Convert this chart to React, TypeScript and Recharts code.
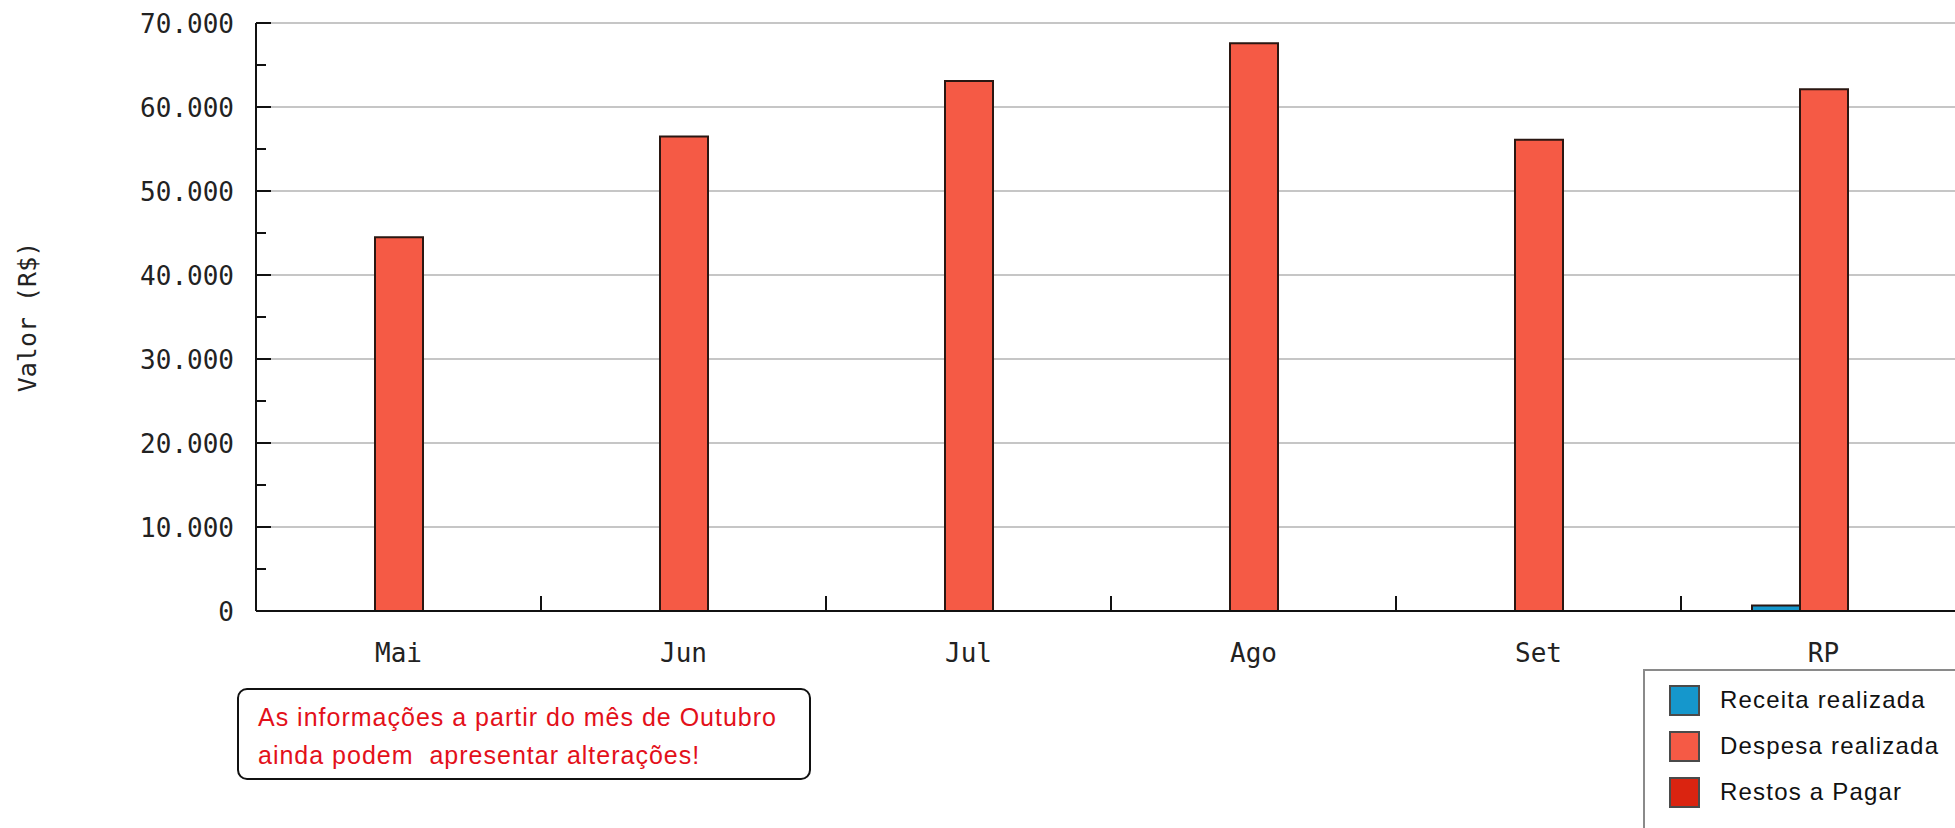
import { BarChart, Bar, XAxis, YAxis, CartesianGrid } from "recharts";

const categories = ["Mai", "Jun", "Jul", "Ago", "Set", "RP"];
const receitaRealizada = [0, 0, 0, 0, 0, 650];
const despesaRealizada = [44500, 56500, 63100, 67600, 56100, 62100];
const restosAPagar = [0, 0, 0, 0, 0, 0];

const yTicks = [0, 5000, 10000, 15000, 20000, 25000, 30000, 35000, 40000, 45000, 50000, 55000, 60000, 65000, 70000];
const yGridValues = [10000, 20000, 30000, 40000, 50000, 60000, 70000];

const noteLines = ["As informações a partir do mês de Outubro", "ainda podem  apresentar alterações!"];

const series = [
  { key: "receita", name: "Receita realizada", color: "#1597cc", values: receitaRealizada },
  { key: "despesa", name: "Despesa realizada", color: "#f55a45", values: despesaRealizada },
  { key: "restos", name: "Restos a Pagar", color: "#da2410", values: restosAPagar },
];

const data = categories.map((month, i) => {
  const row: Record<string, string | number> = { month };
  series.forEach((s) => (row[s.key] = s.values[i]));
  return row;
});

const MONO = "'DejaVu Sans Mono', monospace";
const SANS = "'Liberation Sans', Arial, sans-serif";

const CHART_W = 1980;
const PLOT_LEFT = 256;
const PLOT_RIGHT = 14;
const BAND = (CHART_W - PLOT_LEFT - PLOT_RIGHT) / categories.length;

const fmt = (v: number) => String(v).replace(/\B(?=(\d{3})+(?!\d))/g, ".");

const XTick = (props: any) => {
  const { x, y, payload, index } = props;
  const half = payload?.offset || BAND / 2;
  return (
    <g>
      <text x={x} y={y + 51} textAnchor="middle" fontFamily={MONO} fontSize={26} fill="#222">
        {payload.value}
      </text>
      {index < categories.length - 1 && (
        <line x1={x + half} x2={x + half} y1={y} y2={y - 15} stroke="#111" strokeWidth={2} />
      )}
    </g>
  );
};

const YTick = (props: any) => {
  const { x, y, payload } = props;
  const major = payload.value % 10000 === 0;
  return (
    <g>
      {payload.value !== 0 && (
        <line x1={x} x2={x + (major ? 15 : 10)} y1={y} y2={y} stroke="#111" strokeWidth={2} />
      )}
      {major && (
        <text x={x - 22} y={y} dy="0.38em" textAnchor="end" fontFamily={MONO} fontSize={26} fill="#222">
          {fmt(payload.value)}
        </text>
      )}
    </g>
  );
};

const YTitle = (props: any) => {
  const vb = props.viewBox || { y: 23, height: 588 };
  return (
    <text
      transform={`translate(27, ${vb.y + vb.height / 2}) rotate(-90)`}
      textAnchor="middle"
      dy="0.35em"
      fontFamily={MONO}
      fontSize={25}
      fill="#222"
    >
      Valor (R$)
    </text>
  );
};

export default function App() {
  return (
    <div style={{ position: "absolute", left: 0, top: 0, width: 1955, height: 828, overflow: "hidden", background: "#fff" }}>
      <BarChart
        width={CHART_W}
        height={828}
        data={data}
        margin={{ top: 23, right: PLOT_RIGHT, bottom: 157, left: 0 }}
        barGap={0}
        barSize={48}
      >
        <CartesianGrid vertical={false} horizontalValues={yGridValues} stroke="#c6c6c6" strokeWidth={2} />
        <XAxis
          dataKey="month"
          height={60}
          interval={0}
          tickSize={0}
          tickMargin={0}
          axisLine={{ stroke: "#111", strokeWidth: 2 }}
          tick={XTick}
        />
        <YAxis
          width={PLOT_LEFT}
          domain={[0, 70000]}
          ticks={yTicks}
          interval={0}
          tickSize={0}
          tickMargin={0}
          axisLine={{ stroke: "#111", strokeWidth: 2 }}
          tick={YTick}
          label={YTitle}
        />
        {series.map((s) => (
          <Bar
            key={s.key}
            dataKey={s.key}
            name={s.name}
            fill={s.color}
            stroke="#2a1712"
            strokeWidth={2}
            isAnimationActive={false}
          />
        ))}
      </BarChart>

      {/* aviso */}
      <div
        style={{
          position: "absolute",
          left: 237,
          top: 688,
          width: 570,
          height: 88,
          border: "2px solid #111",
          borderRadius: 10,
          fontFamily: SANS,
          fontSize: 25,
          color: "#e3101a",
        }}
      >
        {noteLines.map((line, i) => (
          <div
            key={i}
            style={{ position: "absolute", left: 19, top: 12 + i * 38, lineHeight: "30px", whiteSpace: "pre", letterSpacing: 1 }}
          >
            {line}
          </div>
        ))}
      </div>

      {/* legenda */}
      <div
        style={{
          position: "absolute",
          left: 1643,
          top: 669,
          width: 330,
          height: 200,
          border: "2px solid #8a8a8a",
          fontFamily: SANS,
          fontSize: 24,
          color: "#111",
        }}
      >
        {series.map((s, i) => (
          <div
            key={s.key}
            style={{ position: "absolute", left: 24, top: 13 + i * 46, height: 32, display: "flex", alignItems: "center" }}
          >
            <span
              style={{
                display: "inline-block",
                width: 27,
                height: 27,
                background: s.color,
                border: "2px solid #4a4a4a",
                marginRight: 20,
              }}
            />
            <span style={{ letterSpacing: 1.2, whiteSpace: "pre" }}>{s.name}</span>
          </div>
        ))}
      </div>
    </div>
  );
}
